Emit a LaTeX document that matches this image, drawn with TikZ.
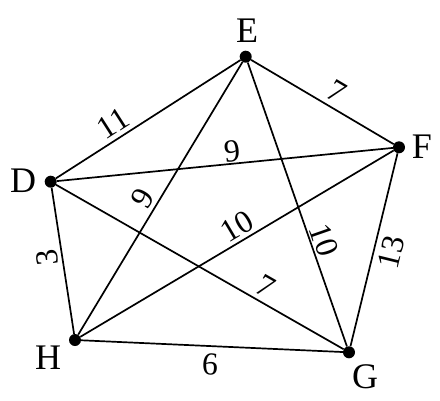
\documentclass[tikz,border=0pt]{standalone}
\usepackage{fontspec}
\setmainfont{Liberation Serif}
\begin{document}
\begin{tikzpicture}[x=1pt,y=-1pt,
  vertex/.style={circle,fill=black,inner sep=0pt,minimum size=12pt},
  vname/.style={font=\fontsize{36}{38}\selectfont,inner sep=0pt},
  wlabel/.style={font=\fontsize{32}{34}\selectfont,inner sep=0pt},
  edge/.style={line width=1.7pt}]
\useasboundingbox (0,0) rectangle (440,400);
\node[vertex] (E) at (245.7,56.7) {};
\node[vertex] (F) at (399,147.3) {};
\node[vertex] (D) at (50.7,181.7) {};
\node[vertex] (H) at (75,340) {};
\node[vertex] (G) at (349,352.3) {};
\node[vname] (lE) at (247,30.5) {E};
\node[vname] (lF) at (422,146.7) {F};
\node[vname] (lD) at (23,180.5) {D};
\node[vname] (lH) at (48,358) {H};
\node[vname] (lG) at (365,377) {G};
\draw[edge] (D) -- (E);
\draw[edge] (E) -- (F);
\draw[edge] (D) -- (F);
\draw[edge] (E) -- (H);
\draw[edge] (H) -- (F);
\draw[edge] (E) -- (G);
\draw[edge] (F) -- (G);
\draw[edge] (D) -- (H);
\draw[edge] (D) -- (G);
\draw[edge] (H) -- (G);
\node[wlabel,rotate=32.7] (wDE) at (113,123) {11};
\node[wlabel,rotate=-30.6] (wEF) at (337,92) {7};
\node[wlabel,rotate=5.6] (wDF) at (232,151) {9};
\node[wlabel,rotate=59] (wEH) at (143,198) {9};
\node[wlabel,rotate=30.7] (wHF) at (237,226) {10};
\node[wlabel,rotate=-70.8] (wEG) at (324,240) {10};
\node[wlabel,rotate=76.3] (wFG) at (391,252) {13};
\node[wlabel,rotate=96] (wDH) at (47,258) {3};
\node[wlabel,rotate=-29.7] (wDG) at (266,286) {7};
\node[wlabel,rotate=-2.6] (wHG) at (210,364) {6};
\end{tikzpicture}
\end{document}
